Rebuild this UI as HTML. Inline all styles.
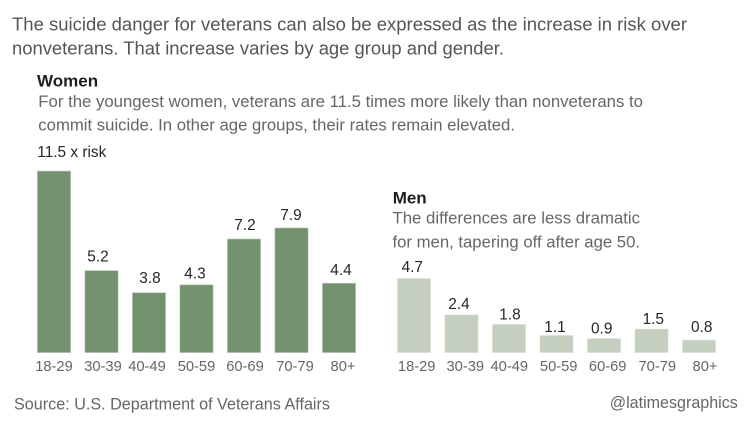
<!DOCTYPE html>
<html lang="en">
<head>
<meta charset="utf-8">
<title>Veteran suicide risk by age and gender</title>
<style>
html,body{margin:0;padding:0;background:#fff;}
svg{display:block;font-family:"Liberation Sans",Arial,sans-serif;filter:blur(0.35px);}
.intro{font-size:18.8px;fill:#555;}
.head{font-size:17px;font-weight:bold;fill:#1e1e1e;}
.sub{font-size:16.2px;fill:#666;}
.val{font-size:15.4px;fill:#262626;text-anchor:middle;}
.tick{font-size:14.7px;fill:#666;text-anchor:middle;}
.foot{font-size:16.2px;fill:#666;}
</style>
</head>
<body>
<svg id="chart" width="750" height="422" viewBox="0 0 750 422" xmlns="http://www.w3.org/2000/svg">
  <text class="intro" x="12" y="30.7" textLength="675" lengthAdjust="spacingAndGlyphs">The suicide danger for veterans can also be expressed as the increase in risk over</text>
  <text class="intro" x="12" y="54.3" textLength="492" lengthAdjust="spacingAndGlyphs">nonveterans. That increase varies by age group and gender.</text>

  <text class="head" x="37" y="86.7">Women</text>
  <text class="sub" x="38.3" y="107" textLength="604.7" lengthAdjust="spacingAndGlyphs">For the youngest women, veterans are 11.5 times more likely than nonveterans to</text>
  <text class="sub" x="38.3" y="130.7" textLength="476.7" lengthAdjust="spacingAndGlyphs">commit suicide. In other age groups, their rates remain elevated.</text>

  <text class="head" x="392.7" y="203.3">Men</text>
  <text class="sub" x="392.5" y="223.3" textLength="247.5" lengthAdjust="spacingAndGlyphs">The differences are less dramatic</text>
  <text class="sub" x="392.5" y="247.3" textLength="247.5" lengthAdjust="spacingAndGlyphs">for men, tapering off after age 50.</text>

  <g id="women-chart"></g>
  <g id="men-chart"></g>

  <text class="foot" x="14" y="409.3" textLength="316" lengthAdjust="spacingAndGlyphs">Source: U.S. Department of Veterans Affairs</text>
  <text class="foot" x="609.8" y="408" textLength="128" lengthAdjust="spacingAndGlyphs">@latimesgraphics</text>
</svg>
<script>
const categories = ["18-29", "30-39", "40-49", "50-59", "60-69", "70-79", "80+"];
const womenValues = [11.5, 5.2, 3.8, 4.3, 7.2, 7.9, 4.4];
const menValues = [4.7, 2.4, 1.8, 1.1, 0.9, 1.5, 0.8];
const womenValueLabels = ["11.5 x risk", "5.2", "3.8", "4.3", "7.2", "7.9", "4.4"];
const menValueLabels = ["4.7", "2.4", "1.8", "1.1", "0.9", "1.5", "0.8"];

const NS = "http://www.w3.org/2000/svg";
const baselineY = 352.7;
const unitHeight = 15.8;
const barWidth = 33.4;
const barStep = 47.5;

function yScale(v) { return baselineY - v * unitHeight; }
function xScale(left, i) { return left + i * barStep; }

function addText(parent, cls, x, y, str) {
  const t = document.createElementNS(NS, "text");
  t.setAttribute("class", cls);
  t.setAttribute("x", x);
  t.setAttribute("y", y);
  t.textContent = str;
  parent.appendChild(t);
  return t;
}

function drawPanel(cfg) {
  const root = document.getElementById(cfg.id);
  cfg.values.forEach(function (v, i) {
    const x = xScale(cfg.left, i);
    const top = yScale(v);
    const bar = document.createElementNS(NS, "rect");
    
    
    bar.setAttribute("x", x);
    bar.setAttribute("y", top);
    bar.setAttribute("width", barWidth);
    bar.setAttribute("height", baselineY - top);
    bar.setAttribute("fill", cfg.fill);
    bar.setAttribute("stroke", cfg.edge);
    bar.setAttribute("stroke-width", "0.7");
    root.appendChild(bar);

    const centre = x + barWidth / 2;
    const val = addText(root, "val", centre + cfg.valueDx[i], top - cfg.valueGap[i], cfg.labels[i]);
    
    
    if (cfg.firstLeft && i === 0) {
      val.setAttribute("x", x);
      val.style.textAnchor = "start";
    }

    const tick = addText(root, "tick", centre + cfg.tickDx[i], 371, categories[i]);
    
    
  });
}

drawPanel({
  id: "women-chart", left: 37.3, values: womenValues, labels: womenValueLabels,
  fill: "#74926f", edge: "#c9d5c5", firstLeft: true,
  valueDx: [0, -3.5, 1, -1.5, 1, -0.5, 2],
  valueGap: [14, 9, 9.7, 6.3, 9, 8, 8],
  tickDx: [0, 1.5, -2, 0, 1, 3.5, 4]
});
drawPanel({
  id: "men-chart", left: 397.3, values: menValues, labels: menValueLabels,
  fill: "#c4cfbf", edge: "#e6ebe3", firstLeft: false,
  valueDx: [-1.7, -2.5, 1, -1.5, -2.3, 1.8, 2.7],
  valueGap: [6.6, 6, 5, 3.3, 5, 5, 8],
  tickDx: [2.7, 3.8, 0.3, 2.2, 3.7, 5.8, 6]
});
</script>
</body>
</html>
